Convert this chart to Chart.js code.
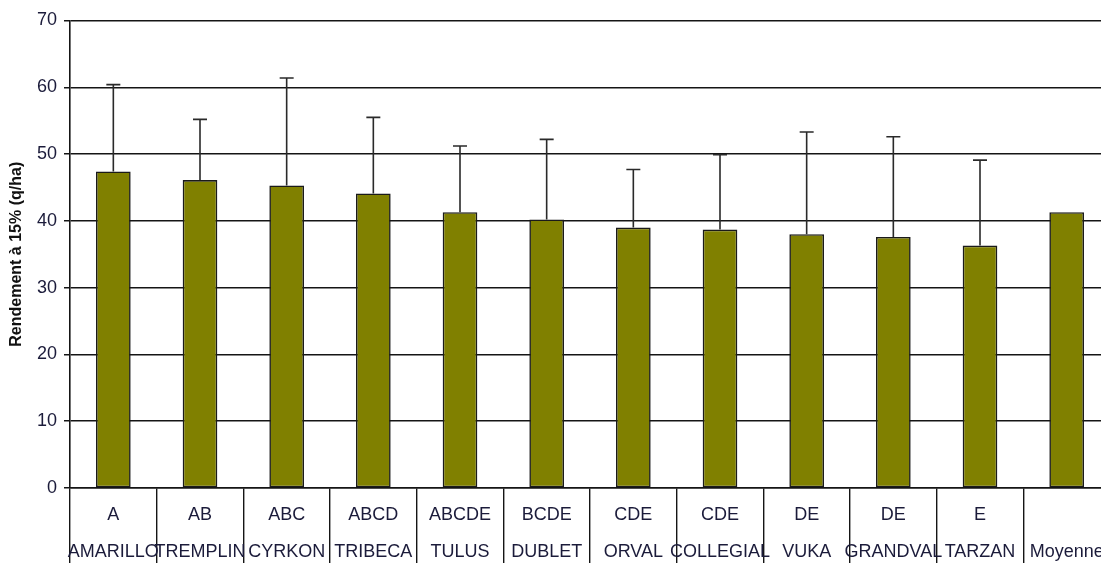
<!DOCTYPE html>
<html>
<head>
<meta charset="utf-8">
<script src="https://cdn.jsdelivr.net/npm/chart.js@4/dist/chart.umd.min.js"></script>
<style>
  html, body { margin: 0; padding: 0; background: #fff; overflow: hidden; }
  #wrap { width: 1110px; height: 563px; }
</style>
</head>
<body>
<div id="wrap"><canvas id="myChart" width="1110" height="563"></canvas></div>
<script>
const varietes = ['AMARILLO', 'TREMPLIN', 'CYRKON', 'TRIBECA', 'TULUS', 'DUBLET', 'ORVAL', 'COLLEGIAL', 'VUKA', 'GRANDVAL', 'TARZAN', 'Moyenne']
const groupes = ['A', 'AB', 'ABC', 'ABCD', 'ABCDE', 'BCDE', 'CDE', 'CDE', 'DE', 'DE', 'E', '']
const rendement = [47.4, 46.1, 45.3, 44.1, 41.3, 40.2, 39.0, 38.7, 38.0, 37.6, 36.3, 41.3]
// ecart-type, dessine seulement vers le haut
const ecart = [13.0, 9.1, 16.1, 11.4, 9.9, 12.0, 8.7, 11.2, 15.3, 15.0, 12.8, 0]
const yTicks = [0, 10, 20, 30, 40, 50, 60, 70]

const textColor = '#1b1b3a'
const lineColor = '#151515'

const errorBars = {
    id: 'errorBars',
    afterDatasetsDraw(chart) {
        const ctx = chart.ctx
        const y = chart.scales.y
        const meta = chart.getDatasetMeta(0)
        ctx.save()
        ctx.strokeStyle = '#2a2a2a'
        ctx.lineWidth = 1.6
        meta.data.forEach((bar, i) => {
            if (!ecart[i]) return
            const top = y.getPixelForValue(rendement[i] + ecart[i])
            ctx.beginPath()
            ctx.moveTo(bar.x, bar.y)
            ctx.lineTo(bar.x, top)
            ctx.moveTo(bar.x - 7, top)
            ctx.lineTo(bar.x + 7, top)
            ctx.stroke()
        })
        ctx.restore()
    }
}

const ctx = document.getElementById('myChart').getContext('2d')
const chart = new Chart(ctx, {
    type: 'bar',
    data: {
        labels: varietes.map((v, i) => [groupes[i], v]),
        datasets: [{
            label: 'Rendement',
            data: rendement,
            backgroundColor: '#808000',
            borderColor: '#1a1a1a',
            borderWidth: 1.6,
            borderSkipped: false,
            barPercentage: 0.4,
            categoryPercentage: 1
        }]
    },
    options: {
        responsive: false,
        animation: false,
        layout: { padding: { top: 20.5, left: 0, right: 0, bottom: 0 } },
        plugins: {
            legend: { display: false },
            tooltip: { enabled: false }
        },
        scales: {
            x: {
                offset: true,
                afterFit(scale) { scale.height = 75 },
                grid: {
                    offset: true,
                    drawOnChartArea: false,
                    drawTicks: true,
                    tickLength: 75,
                    color: lineColor,
                    lineWidth: 1.4
                },
                border: { display: true, color: lineColor, width: 1.6 },
                ticks: {
                    autoSkip: false,
                    maxRotation: 0,
                    padding: -66,
                    color: textColor,
                    font: { family: 'Liberation Sans, Arial, sans-serif', size: 18, lineHeight: 37 / 18 }
                }
            },
            y: {
                min: 0,
                max: 70,
                afterFit(scale) { scale.width = 70 },
                afterBuildTicks(scale) { scale.ticks = yTicks.map(v => ({ value: v })) },
                grid: {
                    color: lineColor,
                    lineWidth: 1.5,
                    tickLength: 6
                },
                border: { display: true, color: lineColor, width: 1.6 },
                ticks: {
                    padding: 7,
                    color: textColor,
                    font: { family: 'Liberation Sans, Arial, sans-serif', size: 18 }
                },
                title: {
                    display: true,
                    text: 'Rendement à 15% (q/ha)',
                    color: '#111',
                    padding: { top: 7, bottom: 0 },
                    font: { family: 'Liberation Sans, Arial, sans-serif', size: 16, weight: 'bold' }
                }
            }
        }
    },
    plugins: [errorBars]
})
</script>
</body>
</html>
